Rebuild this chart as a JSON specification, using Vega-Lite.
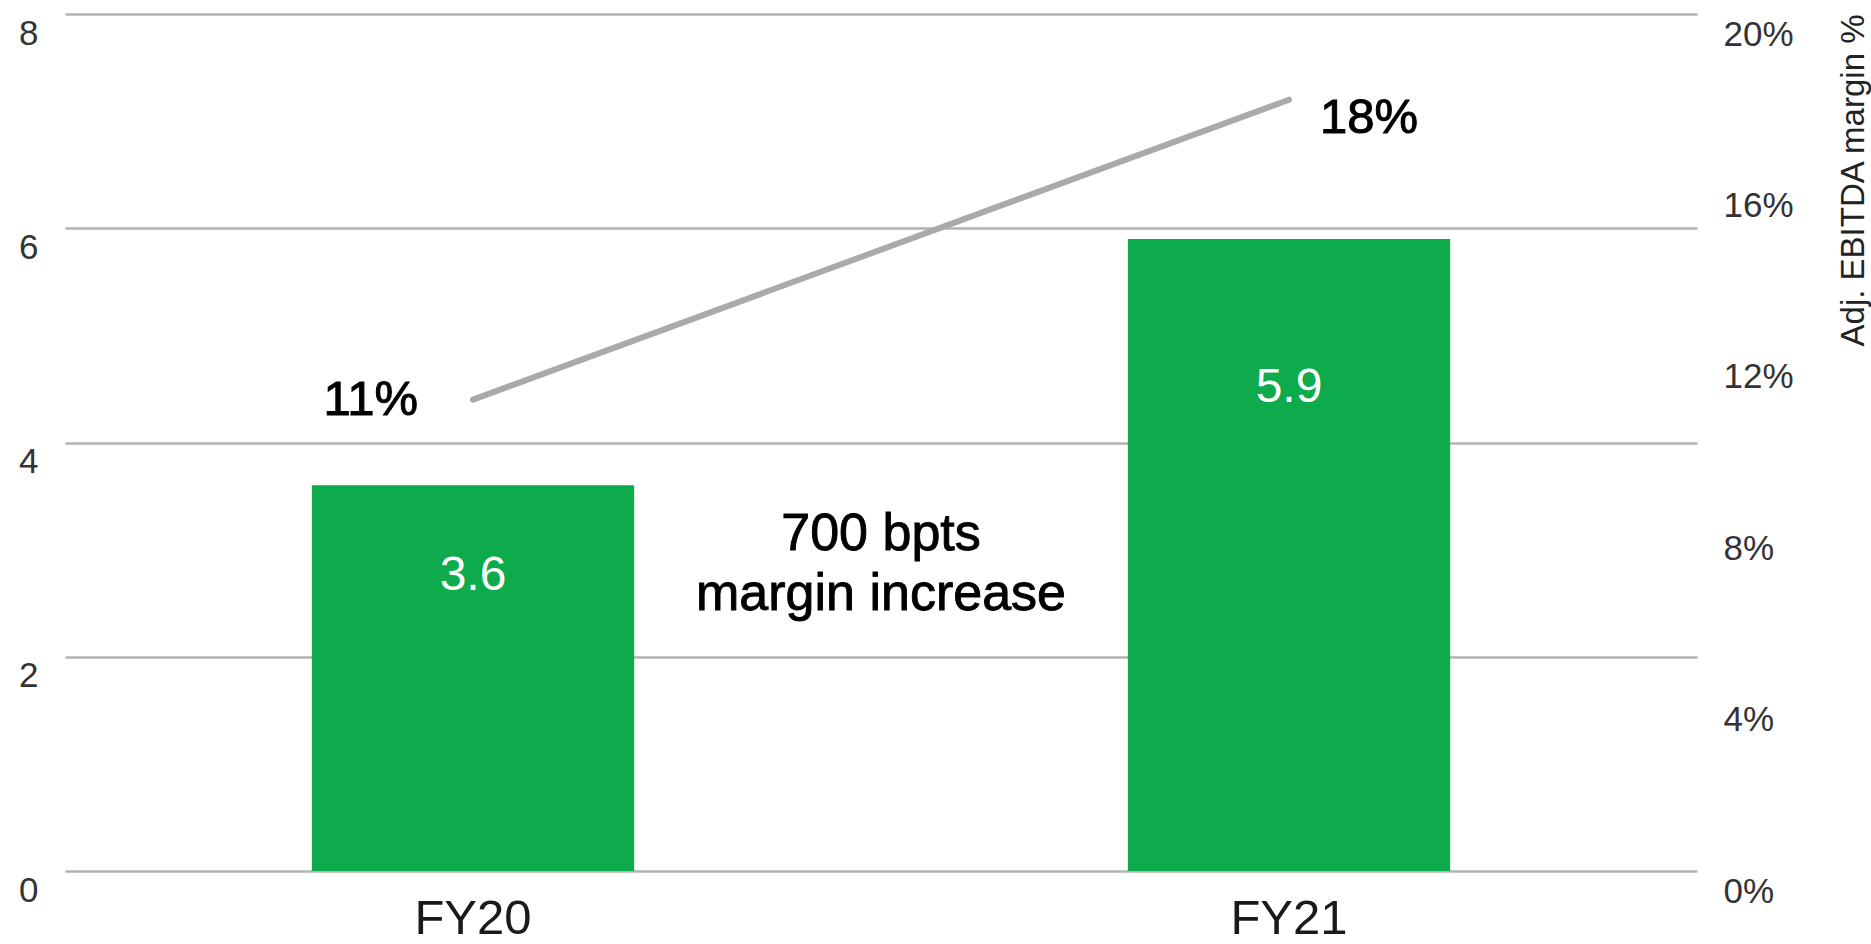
{
  "$schema": "https://vega.github.io/schema/vega-lite/v6.json",
  "width": 1632,
  "height": 857,
  "autosize": {"type": "none"},
  "padding": {"left": 65, "top": 14, "right": 174, "bottom": 73},
  "background": "white",
  "config": {"view": {"stroke": null}, "font": "Liberation Sans"},
  "data": {
    "values": [
      {"year": "FY20", "ebitda": 3.6, "margin": 0.11},
      {"year": "FY21", "ebitda": 5.9, "margin": 0.18}
    ]
  },
  "resolve": {"scale": {"x": "independent", "y": "independent"}},
  "layer": [
    {
      "mark": {"type": "bar", "color": "#0DAB4C"},
      "encoding": {
        "x": {
          "field": "year",
          "type": "nominal",
          "scale": {"paddingInner": 0.605, "paddingOuter": 0.3025},
          "axis": {
            "orient": "bottom",
            "title": null,
            "labelAngle": 0,
            "labelFontSize": 49,
            "labelColor": "#1a1a1a",
            "labelPadding": 23,
            "ticks": false,
            "domain": false
          }
        },
        "y": {
          "field": "ebitda",
          "type": "quantitative",
          "scale": {"domain": [0, 8], "nice": false},
          "axis": {
            "orient": "left",
            "title": null,
            "values": [0, 2, 4, 6, 8],
            "grid": true,
            "gridColor": "#b3b3b3",
            "gridWidth": 2.5,
            "domain": false,
            "ticks": false,
            "labelFontSize": 35,
            "labelColor": "#333333",
            "labelPadding": 27,
            "labelOffset": 19,
            "labelBaseline": "middle"
          }
        }
      }
    },
    {
      "mark": {"type": "text", "color": "white", "fontSize": 48, "baseline": "middle"},
      "encoding": {
        "x": {"field": "year", "type": "nominal", "scale": {"type": "point", "padding": 0.5}, "axis": null},
        "y": {"field": "ebitda", "type": "quantitative", "scale": {"domain": [0, 10.46], "nice": false}, "axis": null},
        "text": {"field": "ebitda", "type": "quantitative", "format": ".1f"}
      }
    },
    {
      "mark": {"type": "line", "color": "#aaaaaa", "strokeWidth": 6, "strokeCap": "round"},
      "encoding": {
        "x": {"field": "year", "type": "nominal", "scale": {"type": "point", "padding": 0.5}, "axis": null},
        "y": {
          "field": "margin",
          "type": "quantitative",
          "scale": {"domain": [0, 0.2], "nice": false},
          "axis": {
            "orient": "right",
            "values": [0, 0.04, 0.08, 0.12, 0.16, 0.2],
            "format": ".0%",
            "grid": false,
            "domain": false,
            "ticks": false,
            "labelFontSize": 35,
            "labelColor": "#333333",
            "labelPadding": 26,
            "labelOffset": 20,
            "labelBaseline": "middle",
            "title": "Adj. EBITDA margin %",
            "titleFontSize": 33,
            "titleFontWeight": "normal",
            "titleColor": "#222222",
            "titleAngle": 270,
            "titleAnchor": "end",
            "titlePadding": 77
          }
        }
      }
    },
    {
      "transform": [{"filter": "datum.year === 'FY20'"}],
      "mark": {"type": "text", "fontSize": 49, "color": "#000000", "stroke": "#000000", "strokeWidth": 1, "align": "right", "baseline": "middle", "dx": -55, "dy": 0},
      "encoding": {
        "x": {"field": "year", "type": "nominal", "scale": {"type": "point", "padding": 0.5, "domain": ["FY20", "FY21"]}, "axis": null},
        "y": {"field": "margin", "type": "quantitative", "scale": {"domain": [0, 0.2], "nice": false}, "axis": null},
        "text": {"field": "margin", "type": "quantitative", "format": ".0%"}
      }
    },
    {
      "transform": [{"filter": "datum.year === 'FY21'"}],
      "mark": {"type": "text", "fontSize": 49, "color": "#000000", "stroke": "#000000", "strokeWidth": 1, "align": "left", "baseline": "middle", "dx": 31, "dy": 18},
      "encoding": {
        "x": {"field": "year", "type": "nominal", "scale": {"type": "point", "padding": 0.5, "domain": ["FY20", "FY21"]}, "axis": null},
        "y": {"field": "margin", "type": "quantitative", "scale": {"domain": [0, 0.2], "nice": false}, "axis": null},
        "text": {"field": "margin", "type": "quantitative", "format": ".0%"}
      }
    },
    {
      "data": {"values": [{"note": "700 bpts\nmargin increase", "pos": 0.5, "level": 3}]},
      "mark": {"type": "text", "fontSize": 52, "lineHeight": 60, "lineBreak": "\n", "color": "#000000", "stroke": "#000000", "strokeWidth": 0.9, "align": "center", "baseline": "alphabetic"},
      "encoding": {
        "x": {"field": "pos", "type": "quantitative", "scale": {"domain": [0, 1]}, "axis": null},
        "y": {"field": "level", "type": "quantitative", "scale": {"domain": [0, 8], "nice": false}, "axis": null},
        "text": {"field": "note"}
      }
    }
  ]
}
